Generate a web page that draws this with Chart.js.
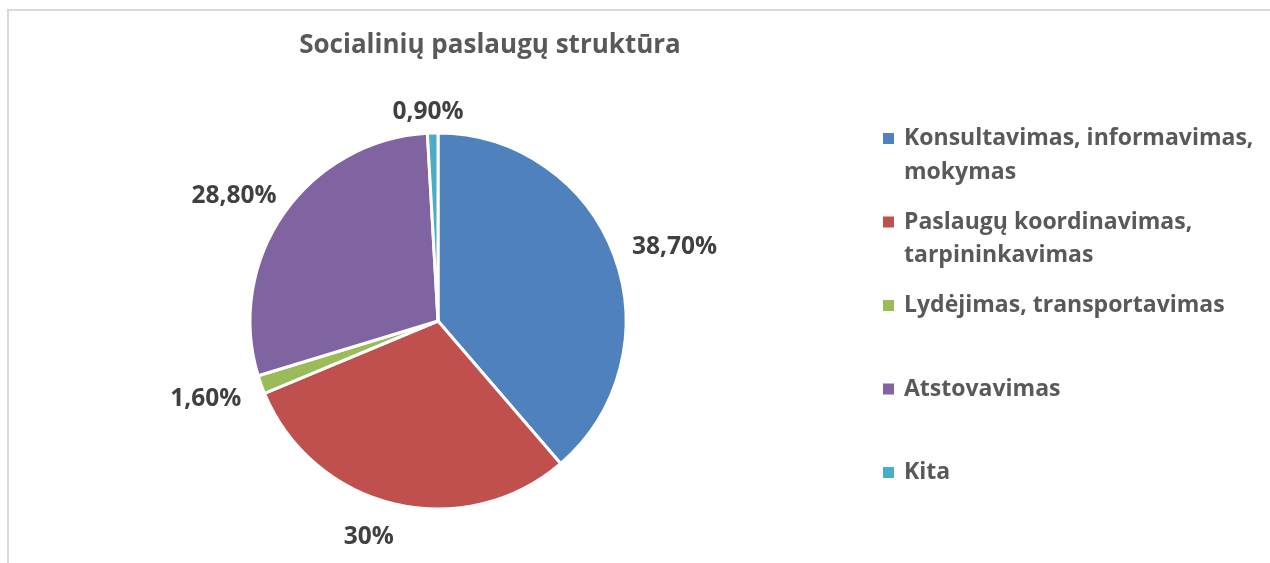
<!DOCTYPE html>
<html>
<head>
<meta charset="utf-8">
<script src="https://cdn.jsdelivr.net/npm/chart.js@4.4.0/dist/chart.umd.min.js"></script>
<style>
  body { margin: 0; background: #fff; }
  #wrap { position: relative; width: 1270px; height: 563px; overflow: hidden; }
  #frame { position: absolute; left: 7px; top: 9px; width: 1300px; height: 600px;
           border: 2px solid #d9d9d9; box-sizing: border-box; pointer-events: none; }
</style>
</head>
<body>
<div id="wrap">
  <canvas id="pie"></canvas>
  <div id="frame"></div>
</div>
<script>
// data
let chartTitle = "Socialinių paslaugų struktūra";
let categories = [
  ["Konsultavimas, informavimas,", "mokymas"],
  ["Paslaugų koordinavimas,", "tarpininkavimas"],
  ["Lydėjimas, transportavimas"],
  ["Atstovavimas"],
  ["Kita"]
];
let shares = [38.7, 30, 1.6, 28.8, 0.9];
let shareLabels = ["38,70%", "30%", "1,60%", "28,80%", "0,90%"];
let sliceColors = ["#4F81BD", "#C0504D", "#9BBB59", "#8064A2", "#4BACC6"];

// small hand nudges so the outside labels sit like the original (px)
const labelNudge = [[5, 10], [-19, 2], [-6, -5], [-4, 13], [-4, 3]];

const fontName = "'Open Sans', Lato, sans-serif";

// title, outside value labels and the wrapped legend on the right
const extras = {
  id: 'extras',
  afterDraw(chart) {
    const ctx = chart.ctx;
    ctx.save();
    ctx.textBaseline = 'alphabetic';

    ctx.font = "bold 26px " + fontName;
    ctx.fillStyle = '#595959';
    ctx.textAlign = 'center';
    ctx.fillText(chartTitle, 490, 53);

    const meta = chart.getDatasetMeta(0);
    ctx.font = "bold 24.5px " + fontName;
    ctx.fillStyle = '#404040';
    meta.data.forEach((arc, i) => {
      const p = arc.getProps(['x', 'y', 'startAngle', 'endAngle', 'outerRadius'], true);
      const mid = (p.startAngle + p.endAngle) / 2;
      const txt = shareLabels[i];
      const w = ctx.measureText(txt).width;
      const h = 17.5;
      const c = Math.cos(mid), s = Math.sin(mid);
      const d = p.outerRadius + 16 + Math.abs(c) * w / 2 + Math.abs(s) * h / 2;
      ctx.fillText(txt, p.x + c * d + labelNudge[i][0], p.y + s * d + h / 2 + labelNudge[i][1]);
    });

    ctx.textAlign = 'left';
    ctx.font = "bold 23px " + fontName;
    const labels = chart.data.labels;
    const colors = chart.data.datasets[0].backgroundColor;
    labels.forEach((lines, i) => {
      const base = 145 + i * 83.5;
      ctx.fillStyle = colors[i];
      ctx.fillRect(883, base - 12, 11, 11);
      ctx.fillStyle = '#595959';
      lines.forEach((ln, j) => ctx.fillText(ln, 904, base + j * 33.5));
    });
    ctx.restore();
  }
};

new Chart('pie', {
  type: 'pie',
  data: {
    labels: categories,
    datasets: [{
      data: shares,
      backgroundColor: sliceColors,
      borderColor: '#ffffff',
      borderWidth: 3
    }]
  },
  options: {
    responsive: true,
    maintainAspectRatio: false,
    animation: false,
    radius: 188,
    layout: { padding: { left: 238, right: 632, top: 121, bottom: 42 } },
    plugins: {
      legend: { display: false },
      title: { display: false },
      tooltip: { enabled: false }
    }
  },
  plugins: [extras]
});
</script>
</body>
</html>
